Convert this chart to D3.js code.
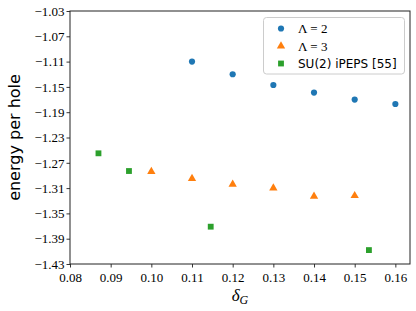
<!DOCTYPE html>
<html>
<head>
<meta charset="utf-8">
<script src="https://cdn.jsdelivr.net/npm/d3@7"></script>
<style>
  body { margin: 0; background: #fff; }
  svg { display: block; }
  .tick text { font-family: "Liberation Serif", "DejaVu Serif", serif; font-size: 13px; fill: #000; }
</style>
</head>
<body>
<div id="chart"></div>
<script>
  // data
  var lam2X = [0.11, 0.12, 0.13, 0.14, 0.15, 0.16];
  var lam2Y = [-1.110, -1.130, -1.147, -1.159, -1.170, -1.177];

  var lam3X = [0.10, 0.11, 0.12, 0.13, 0.14, 0.15];
  var lam3Y = [-1.284, -1.295, -1.304, -1.310, -1.323, -1.322];

  var suX = [0.0870, 0.0945, 0.1146, 0.1535];
  var suY = [-1.255, -1.283, -1.371, -1.408];

  var xTicks = [0.08, 0.09, 0.10, 0.11, 0.12, 0.13, 0.14, 0.15, 0.16];
  var yTicks = [-1.03, -1.07, -1.11, -1.15, -1.19, -1.23, -1.27, -1.31, -1.35, -1.39, -1.43];

  var seriesNames = ["\u039b = 2", "\u039b = 3", "SU(2) iPEPS [55]"];
  var colors = ["#1f77b4", "#ff7f0e", "#2ca02c"];

  var W = 416, H = 311;
  var margin = {left: 70, right: 6, top: 11, bottom: 47};

  var svg = d3.select("#chart").append("svg")
      .attr("width", W)
      .attr("height", H);

  var x = d3.scaleLinear()
      .domain([0.08, 0.1636])
      .range([margin.left, W - margin.right]);
  var y = d3.scaleLinear()
      .domain([-1.43, -1.03])
      .range([H - margin.bottom, margin.top]);

  var minus = function(v) { return d3.format(".2f")(v).replace("-", "\u2212"); };

  // axes
  svg.append("g")
      .attr("transform", "translate(0," + (H - margin.bottom) + ")")
      .call(d3.axisBottom(x).tickValues(xTicks).tickFormat(d3.format(".2f")).tickSize(3.5).tickPadding(2))
      .call(function(g) { g.select(".domain").remove(); });

  svg.append("g")
      .attr("transform", "translate(" + margin.left + ",0)")
      .call(d3.axisLeft(y).tickValues(yTicks).tickFormat(minus).tickSize(3.5).tickPadding(2))
      .call(function(g) { g.select(".domain").remove(); });

  svg.selectAll(".tick line").attr("stroke", "#000").attr("stroke-width", 0.8);
  svg.selectAll(".tick text").attr("dy", null);
  svg.selectAll(".tick text").filter(function() { return this.parentNode.parentNode.getAttribute("transform").indexOf("translate(0") === 0; })
      .attr("dy", "0.95em");
  svg.selectAll(".tick text").filter(function() { return this.parentNode.parentNode.getAttribute("transform").indexOf("translate(" + margin.left) === 0; })
      .attr("dy", "0.33em");

  // frame
  svg.append("rect")
      .attr("x", margin.left)
      .attr("y", margin.top)
      .attr("width", W - margin.right - margin.left)
      .attr("height", H - margin.bottom - margin.top)
      .attr("fill", "none")
      .attr("stroke", "#222")
      .attr("stroke-width", 1);

  // markers
  var circle = d3.symbol().type(d3.symbolCircle).size(30);
  var tri = d3.symbol().type(d3.symbolTriangle).size(30);
  var square = d3.symbol().type(d3.symbolSquare).size(34);
  var shapes = [circle, tri, square];

  function plot(xs, ys, k) {
    svg.append("g").selectAll("path")
      .data(xs.map(function(v, i) { return [v, ys[i]]; }))
      .enter()
        .append("path")
        .attr("d", shapes[k])
        .attr("fill", colors[k])
        .attr("transform", function(d) { return "translate(" + x(d[0]) + "," + y(d[1]) + ")"; });
  }
  plot(lam2X, lam2Y, 0);
  plot(lam3X, lam3Y, 1);
  plot(suX, suY, 2);

  // legend
  var lg = svg.append("g");
  lg.append("rect")
      .attr("x", 263.5).attr("y", 17.5)
      .attr("width", 141).attr("height", 56.5)
      .attr("rx", 3)
      .attr("fill", "#fff").attr("fill-opacity", 0.8)
      .attr("stroke", "#ccc").attr("stroke-width", 1);
  seriesNames.forEach(function(name, k) {
    var ly = 28.5 + k * 17.5;
    lg.append("path")
        .attr("d", shapes[k])
        .attr("fill", colors[k])
        .attr("transform", "translate(281," + ly + ")");
    var t = lg.append("text")
        .attr("x", 298)
        .attr("y", ly)
        .attr("dy", "0.35em")
        .attr("font-size", k < 2 ? 13 : 12)
        .attr("font-family", k < 2 ? "Liberation Serif, serif" : "DejaVu Sans, sans-serif")
        .text(name);
  });

  // axis labels
  svg.append("text")
      .attr("transform", "translate(20," + ((margin.top + H - margin.bottom) / 2) + ") rotate(-90)")
      .attr("text-anchor", "middle")
      .attr("font-family", "DejaVu Sans, sans-serif")
      .attr("font-size", 16)
      .text("energy per hole");

  var xl = svg.append("text")
      .attr("x", x(0.1218))
      .attr("y", 301)
      .attr("text-anchor", "middle")
      .attr("font-family", "Liberation Serif, serif")
      .attr("font-style", "italic")
      .attr("font-size", 17);
  xl.append("tspan").text("\u03b4");
  xl.append("tspan").attr("font-size", 12).attr("dy", 3).text("G");
</script>
</body>
</html>
